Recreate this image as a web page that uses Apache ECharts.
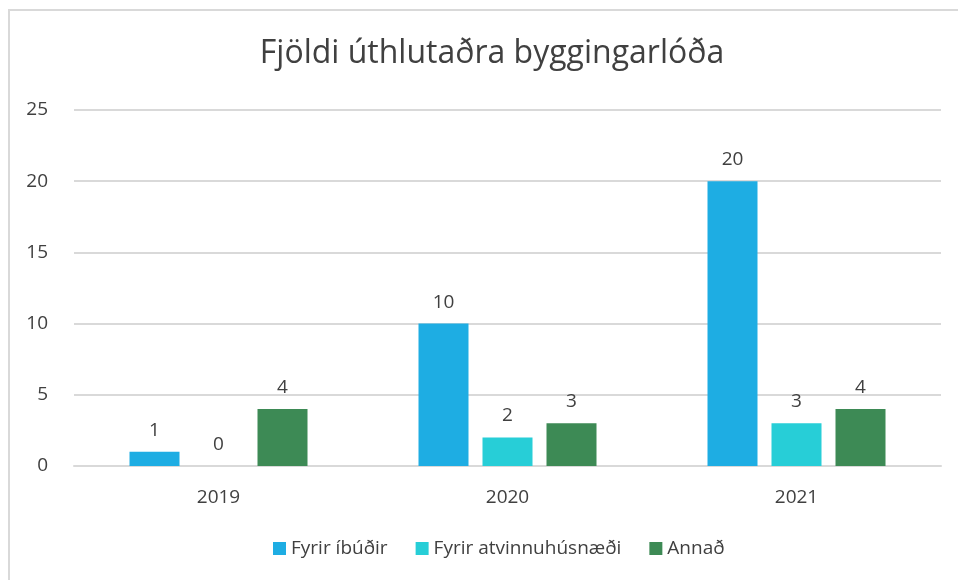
<!DOCTYPE html>
<html>
<head>
<meta charset="utf-8">
<script src="https://cdn.jsdelivr.net/npm/echarts@6/dist/echarts.min.js"></script>
<style>
  html, body { margin: 0; padding: 0; background: #fff; }
  #frame { position: absolute; left: 8px; top: 9px; width: 1200px; height: 900px; border: 2px solid #d9d9d9; }
  #chart { position: absolute; left: 0; top: 0; width: 958px; height: 580px; }
</style>
</head>
<body>
<div id="frame"></div>
<div id="chart"></div>
<script>
var years = ['2019', '2020', '2021'];
var ibudir = [1, 10, 20];
var atvinnu = [0, 2, 3];
var annad = [4, 3, 4];
var yTicks = [0, 5, 10, 15, 20, 25];

var font = '"Open Sans", sans-serif';
var myChart = echarts.init(document.getElementById('chart'));

function barSeries(name, data, color) {
    return {
        name: name,
        type: 'bar',
        data: data,
        barWidth: 50,
        barGap: '28%',
        itemStyle: { color: color },
        label: {
            show: true,
            position: 'top',
            distance: 12,
            color: '#404040',
            fontFamily: font,
            fontSize: 19
        }
    };
}

var option = {
    animation: false,
    textStyle: { fontFamily: font },
    title: {
        text: 'Fjöldi úthlutaðra byggingarlóða',
        left: 487,
        top: 33,
        textAlign: 'center',
        textStyle: { fontFamily: font, fontSize: 32, fontWeight: 'normal', color: '#404040' }
    },
    legend: {
        data: ['Fyrir íbúðir', 'Fyrir atvinnuhúsnæði', 'Annað'],
        bottom: 17,
        left: 268,
        itemWidth: 13,
        itemHeight: 13,
        itemGap: 28,
        icon: 'rect',
        textStyle: { fontFamily: font, fontSize: 19, color: '#404040' }
    },
    grid: { left: 74, right: 17, top: 110, bottom: 114 },
    xAxis: {
        type: 'category',
        data: years,
        axisTick: { show: false },
        axisLine: { lineStyle: { color: '#d9d9d9', width: 2 } },
        axisLabel: { margin: 22, fontSize: 19, color: '#404040', fontFamily: font }
    },
    yAxis: {
        type: 'value',
        min: yTicks[0],
        max: yTicks[yTicks.length - 1],
        interval: 5,
        axisLine: { show: false },
        axisTick: { show: false },
        splitLine: { lineStyle: { color: '#d9d9d9', width: 2 } },
        axisLabel: { margin: 26, fontSize: 19, color: '#404040', fontFamily: font }
    },
    series: [
        barSeries('Fyrir íbúðir', ibudir, '#1eade3'),
        barSeries('Fyrir atvinnuhúsnæði', atvinnu, '#27ced7'),
        barSeries('Annað', annad, '#3d8a55')
    ]
};
myChart.setOption(option);
</script>
</body>
</html>
